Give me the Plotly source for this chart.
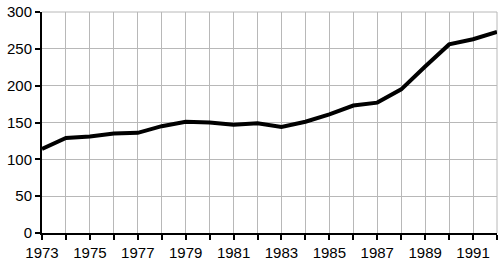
import plotly.graph_objects as go

years = list(range(1973, 1993))
values = [114, 129, 131, 135, 136, 145, 151, 150, 147, 149, 144, 151, 161, 173, 177, 195, 226, 256, 263, 273]
x_tick_vals = list(range(1973, 1993, 2))
x_tick_text = [str(v) for v in x_tick_vals]
y_tick_vals = [0, 50, 100, 150, 200, 250, 300]

fig = go.Figure()
fig.add_trace(go.Scatter(x=years, y=values, mode="lines",
                         line=dict(color="black", width=4), showlegend=False))

grid = "#b8b8b8"
fig.update_layout(
    width=500, height=264,
    margin=dict(l=42, r=3, t=10, b=31),
    paper_bgcolor="white", plot_bgcolor="white",
    font=dict(family="Liberation Sans, Arial, Helvetica, sans-serif", size=15, color="black"),
    xaxis=dict(range=[1973, 1992], tickvals=x_tick_vals, ticktext=x_tick_text,
               showgrid=True, gridcolor=grid, gridwidth=1,
               ticks="outside", ticklen=5, tickcolor="black", tickwidth=1.5,
               showline=True, linecolor="black", linewidth=2,
               minor=dict(dtick=1, tick0=1973, showgrid=True, gridcolor=grid, gridwidth=1,
                          ticks="outside", ticklen=5, tickcolor="black", tickwidth=1.5),
               zeroline=False, fixedrange=True),
    yaxis=dict(range=[0, 300], tickvals=y_tick_vals,
               showgrid=True, gridcolor=grid, gridwidth=1,
               ticks="outside", ticklen=5, tickcolor="black", tickwidth=1.5,
               showline=True, linecolor="black", linewidth=2,
               zeroline=False, fixedrange=True),
)
fig.add_shape(type="line", xref="paper", yref="paper", x0=0, x1=1, y0=1, y1=1,
              line=dict(color=grid, width=1), layer="below")
fig.add_shape(type="line", xref="paper", yref="paper", x0=1, x1=1, y0=0, y1=1,
              line=dict(color=grid, width=1), layer="below")

fig.write_html("out.html")
